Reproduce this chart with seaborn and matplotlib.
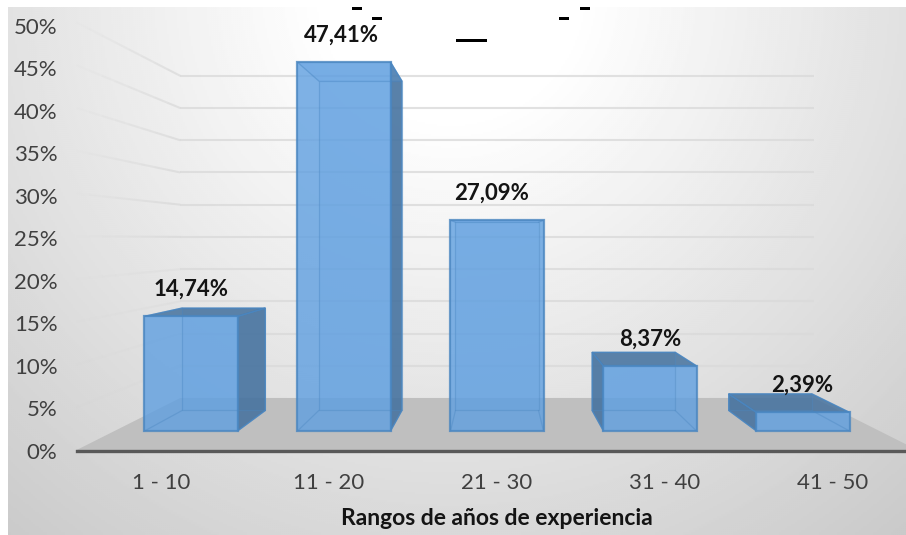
import numpy as np
import pandas as pd
import matplotlib
matplotlib.use("Agg")
import matplotlib.pyplot as plt
from matplotlib.patches import Polygon, Rectangle
import seaborn as sns

# ---- data ----
categories = ["1 - 10", "11 - 20", "21 - 30", "31 - 40", "41 - 50"]
values = [14.74, 47.41, 27.09, 8.37, 2.39]
value_labels = ["14,74%", "47,41%", "27,09%", "8,37%", "2,39%"]
y_ticks = [0, 5, 10, 15, 20, 25, 30, 35, 40, 45, 50]
x_title = "Rangos de años de experiencia"

# ---- style / geometry ----
W, H = 906, 535
BAR_W = 0.608
XV, YV = 2.0, 24.7          # vanishing point (category units, percent units)
S_BACK, S_WALL, S_FRONT = 0.893, 0.828, 1.10
ROOM = (-0.5, 4.5)
FRONT, DARK, EDGE = "#5f9fe0", "#46729e", "#4a86c0"
TXT = "#404040"

sns.set_theme(style="white")
plt.rcParams["font.family"] = ["Lato", "DejaVu Sans"]

fig = plt.figure(figsize=(W / 100, H / 100), dpi=100, facecolor="white")


def px_axes(x0, y_top, x1, y_bottom, **kw):
    return fig.add_axes([x0 / W, 1 - y_bottom / H, (x1 - x0) / W, (y_bottom - y_top) / H], **kw)


# background: soft radial gradient, white around the top centre
bg = px_axes(8, 7, W, H, zorder=0)
yy, xx = np.mgrid[7:H:2, 8:W:2]
dist = np.hypot((xx - 450) / 1.0, (yy + 10) / 1.0)
shade = np.clip(1.045 - 0.245 * dist / 680, 0, 1)
bg.imshow(shade, cmap="gray", vmin=0, vmax=1, aspect="auto", interpolation="bilinear")
bg.axis("off")

# main scene: category x, percent y on the plane of the bars' front faces
ax = px_axes(0, 0, W, H, zorder=2)
ax.patch.set_alpha(0)
df = pd.DataFrame({"rango": categories, "valor": values})
sns.barplot(data=df, x="rango", y="valor", ax=ax, width=BAR_W, color=FRONT, saturation=1,
            alpha=0.8, edgecolor=EDGE, linewidth=1.6, zorder=6)
ax.set_xlim(2 - 497 / 153, 2 + (W - 497) / 153)
ax.set_ylim((431 - H) / 7.78, 431 / 7.78)
ax.axis("off")


def proj(x, y, s):
    return XV + s * (x - XV), YV + s * (y - YV)


# floor
ax.add_patch(Polygon([proj(ROOM[0], 0, S_FRONT), proj(ROOM[1], 0, S_FRONT),
                      proj(ROOM[1], 0, S_WALL), proj(ROOM[0], 0, S_WALL)],
                     closed=True, fc="#bfbfbf", ec="none", zorder=1))

# walls: gridlines on back wall, fading along left wall
for t in y_ticks[1:]:
    ax.plot(*zip(proj(ROOM[0], t, S_WALL), proj(ROOM[1], t, S_WALL)),
            color="#dadada", lw=1.5, alpha=0.8, zorder=2, solid_capstyle="butt")
    a = proj(ROOM[0], t, S_FRONT)
    b = proj(ROOM[0], t, S_WALL)
    ts = np.linspace(0, 1, 9)
    fade = 0.35 if t < 25 else 0.75
    for k in range(8):
        ax.plot([a[0] + (b[0] - a[0]) * ts[k], a[0] + (b[0] - a[0]) * ts[k + 1]],
                [a[1] + (b[1] - a[1]) * ts[k], a[1] + (b[1] - a[1]) * ts[k + 1]],
                color="#d4d4d4", lw=1.5, alpha=(0.08 + 0.8 * ts[k]) * fade, zorder=2,
                solid_capstyle="butt")

# 3-D box faces derived from the values
for i, v in enumerate(values):
    l, r = i - BAR_W / 2, i + BAR_W / 2
    # see-through back and hidden edges
    back = [proj(l, 0, S_BACK), proj(r, 0, S_BACK), proj(r, v, S_BACK), proj(l, v, S_BACK)]
    front = [(l, 0), (r, 0), (r, v), (l, v)]
    # translucent body behind the front face
    ax.add_patch(Polygon(back, closed=True, fc=FRONT, alpha=0.2, ec="none", zorder=4))
    # outer side face (the one turned to the viewer)
    ox = r if i < XV else l
    if i != XV:
        side = [(ox, 0), (ox, v), proj(ox, v, S_BACK), proj(ox, 0, S_BACK)]
        ax.add_patch(Polygon(side, closed=True, fc=DARK, alpha=0.88, ec=EDGE, lw=1.0, zorder=5))
    # top face: dark when seen from above, light when seen from below
    top = [(l, v), (r, v), proj(r, v, S_BACK), proj(l, v, S_BACK)]
    above = v < YV
    ax.add_patch(Polygon(top, closed=True, fc=DARK if above else FRONT,
                         alpha=0.85 if above else 0.25, ec=EDGE, lw=1.0, zorder=5))
    # inner edges
    ax.add_patch(Polygon(back, closed=True, fc="none", ec=EDGE, lw=0.9, alpha=0.38, zorder=7))
    for (fx, fy), (bx, by) in zip(front, back):
        ax.plot([fx, bx], [fy, by], color=EDGE, lw=0.9, alpha=0.38, zorder=7)

# value labels
label_dx = [0, -3, -5, 0, -1]
for i, (v, s) in enumerate(zip(values, value_labels)):
    ax.annotate(s, (i, v), xytext=(label_dx[i] * 0.72, 27 * 0.72), textcoords="offset points",
                ha="center", va="center", fontsize=16, fontweight="bold", color="#141414",
                zorder=9)

# tick axis: lives on the front edge of the floor
axis = px_axes(77, 26, W, 450.6, zorder=3)
axis.patch.set_alpha(0)
axis.set_xlim(-0.5, 2 + (W - 497) / 168)
axis.set_ylim(0, 50)
axis.set_xticks(range(len(categories)), categories)
axis.tick_params(axis="both", length=0, labelsize=16, labelcolor=TXT)
axis.set_yticks(y_ticks, [f"{t}%" for t in y_ticks])
axis.tick_params(axis="y", pad=14)
axis.tick_params(axis="x", pad=16)
for side in ("top", "left", "right"):
    axis.spines[side].set_visible(False)
axis.spines["bottom"].set_color("#595959")
axis.spines["bottom"].set_linewidth(2.4)
axis.set_xlabel(x_title, fontsize=16.5, fontweight="bold", color="#141414", x=0.507, labelpad=11)

# small black specks along the top of the original image
for x0, y0, w, h in [(352, 7, 10, 3), (372, 17, 10, 3), (456, 39, 31, 3), (559, 17, 10, 3), (580, 7, 10, 3)]:
    fig.add_artist(Rectangle((x0 / W, 1 - (y0 + h) / H), w / W, h / H, transform=fig.transFigure,
                             fc="black", ec="none", zorder=10))

fig.savefig("out.png", dpi=100)
